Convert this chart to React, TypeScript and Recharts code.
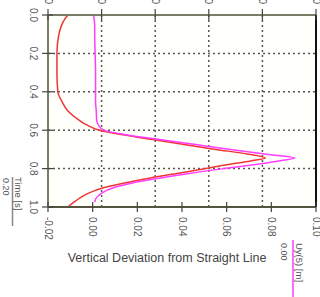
import React from "react";
import { LineChart, Line, XAxis, YAxis, CartesianGrid } from "recharts";

const timeValues = [0, 0.025, 0.05, 0.1, 0.2, 0.3, 0.4, 0.45, 0.5, 0.55, 0.575, 0.6, 0.625, 0.65, 0.675, 0.7, 0.725, 0.745, 0.76, 0.78, 0.8, 0.825, 0.85, 0.875, 0.9, 0.925, 0.95, 0.975, 1.0];
const redSeries = [-0.0111, -0.0127, -0.0138, -0.0151, -0.016, -0.016, -0.0156, -0.0138, -0.0111, -0.0058, -0.0022, 0.0031, 0.0142, 0.0276, 0.0409, 0.0551, 0.0698, 0.0773, 0.0707, 0.06, 0.0507, 0.0378, 0.0253, 0.0142, 0.0049, -0.0013, -0.0053, -0.0084, -0.0111];
const magentaSeries = [0.0004, 0.0007, 0.0009, 0.0009, 0.0011, 0.0013, 0.0013, 0.0013, 0.0016, 0.0018, 0.0027, 0.0049, 0.0156, 0.0307, 0.0462, 0.0618, 0.0778, 0.0905, 0.0835, 0.072, 0.0587, 0.0431, 0.0298, 0.0178, 0.0093, 0.0044, 0.0018, 0.0009, null];

const deviationTicks = [-0.02, 0, 0.02, 0.04, 0.06, 0.08, 0.1];
const deviationLabels = ["-0.02", "0.00", "0.02", "0.04", "0.06", "0.08", "0.10"];
const timeTicks = [0, 0.2, 0.4, 0.6, 0.8, 1.0];
const timeLabels = ["0.0", "0.2", "0.4", "0.6", "0.8", "1.0"];
const topTicks = [0, 0.2, 0.4, 0.6, 0.8, 1.0];
const topLabels = ["0.00", "0.20", "0.40", "0.60", "0.80", "1.00"];

const xTitle = "Vertical Deviation from Straight Line";
const legendTime = { name: "Time [s]", value: "0.20" };
const legendUy = { name: "Uy(5) [m]", value: "0.00" };

const rows = timeValues.map((t, i) => ({ t, red: redSeries[i], magenta: magentaSeries[i] }));

const FONT = "'Liberation Sans', Arial, sans-serif";
const AXIS_COLOR = "#7c7c66";
const LABEL_COLOR = "#555";

const BottomTick = (props: any) => {
  const { x, y, payload } = props;
  const idx = deviationTicks.indexOf(payload.value);
  const label = idx >= 0 ? deviationLabels[idx] : String(payload.value);
  return (
    <g>
      <line x1={x} x2={x} y1={y - 5} y2={y + 5} stroke="#444" strokeWidth={1.2} />
      <text transform={`translate(${x - 3.5},${y + 10}) rotate(90)`} textAnchor="start" fontSize={10} fontFamily={FONT} fill={LABEL_COLOR}>
        {label}
      </text>
    </g>
  );
};

const LeftTick = (props: any) => {
  const { x, y, payload } = props;
  const idx = timeTicks.indexOf(payload.value);
  const label = idx >= 0 ? timeLabels[idx] : String(payload.value);
  return (
    <g>
      <line x1={x - 6} x2={x + 5} y1={y} y2={y} stroke="#444" strokeWidth={1.2} />
      <text transform={`translate(${x - 18},${y}) rotate(90)`} textAnchor="middle" fontSize={10} fontFamily={FONT} fill={LABEL_COLOR}>
        {label}
      </text>
    </g>
  );
};

const TopTick = (props: any) => {
  const { x, y, payload } = props;
  const idx = topTicks.indexOf(payload.value);
  const label = idx >= 0 ? topLabels[idx] : String(payload.value);
  return (
    <g>
      <line x1={x} x2={x} y1={y - 6} y2={y + 5} stroke="#444" strokeWidth={1.2} />
      <text transform={`translate(${x - 3.5},${y - 11}) rotate(90)`} textAnchor="end" fontSize={10} fontFamily={FONT} fill={LABEL_COLOR}>
        {label}
      </text>
    </g>
  );
};

export default function App() {
  return (
    <div style={{ position: "absolute", left: 0, top: 0, width: 320, height: 297, background: "#fff" }}>
      <LineChart
        width={320}
        height={297}
        data={rows}
        layout="vertical"
        margin={{ top: 0, right: 2, bottom: 0, left: 0 }}
      >
        <CartesianGrid
          xAxisId="top"
          yAxisId="time"
          stroke="#555"
          strokeWidth={1.5}
          strokeDasharray="2 3"
          fill="#fffffc"
        />
        <XAxis
          xAxisId="dev"
          type="number"
          orientation="bottom"
          domain={[-0.02, 0.1]}
          ticks={deviationTicks}
          allowDataOverflow
          height={90}
          tickSize={0}
          tickMargin={0}
          tickLine={false}
          axisLine={{ stroke: "#55553f", strokeWidth: 2 }}
          tick={<BottomTick />}
          interval={0}
        />
        <XAxis
          xAxisId="top"
          type="number"
          orientation="top"
          domain={[0, 1]}
          ticks={topTicks}
          allowDataOverflow
          height={15}
          tickSize={0}
          tickMargin={0}
          tickLine={false}
          axisLine={{ stroke: AXIS_COLOR, strokeWidth: 2 }}
          tick={<TopTick />}
          interval={0}
        />
        <YAxis
          yAxisId="time"
          type="number"
          dataKey="t"
          domain={[0, 1]}
          ticks={timeTicks}
          width={48}
          tickSize={0}
          tickMargin={0}
          tickLine={false}
          axisLine={{ stroke: AXIS_COLOR, strokeWidth: 2 }}
          tick={<LeftTick />}
          interval={0}
        />
        <YAxis
          yAxisId="right"
          type="number"
          orientation="right"
          domain={[0, 1]}
          width={2}
          tick={false}
          tickLine={false}
          axisLine={{ stroke: "#111", strokeWidth: 2 }}
        />
        <Line
          xAxisId="dev"
          yAxisId="time"
          dataKey="red"
          type="monotone"
          stroke="#f03535"
          strokeWidth={1.5}
          dot={false}
          isAnimationActive={false}
        />
        <Line
          xAxisId="dev"
          yAxisId="time"
          dataKey="magenta"
          type="monotone"
          stroke="#ff3cff"
          strokeWidth={1.5}
          dot={false}
          connectNulls={false}
          isAnimationActive={false}
        />
      </LineChart>
      <svg width={320} height={297} style={{ position: "absolute", left: 0, top: 0, pointerEvents: "none" }}>
        <text x={167} y={262} textAnchor="middle" fontSize={12.5} fontFamily={FONT} fill="#444">
          {xTitle}
        </text>
        <text transform="translate(3,178) rotate(90)" textAnchor="start" fontSize={9} fontFamily={FONT} fill={LABEL_COLOR}>
          {legendTime.value}
        </text>
        <line x1={12.5} x2={12.5} y1={177} y2={226} stroke="#888" strokeWidth={1.5} />
        <text transform="translate(14.5,177) rotate(90)" textAnchor="start" fontSize={9.5} fontFamily={FONT} fill={LABEL_COLOR}>
          {legendTime.name}
        </text>
        <text transform="translate(281,243) rotate(90)" textAnchor="start" fontSize={9} fontFamily={FONT} fill={LABEL_COLOR}>
          {legendUy.value}
        </text>
        <line x1={293} x2={293} y1={240} y2={297} stroke="#ff3cff" strokeWidth={1.5} />
        <text transform="translate(296,243) rotate(90)" textAnchor="start" fontSize={9.5} fontFamily={FONT} fill={LABEL_COLOR}>
          {legendUy.name}
        </text>
      </svg>
    </div>
  );
}
